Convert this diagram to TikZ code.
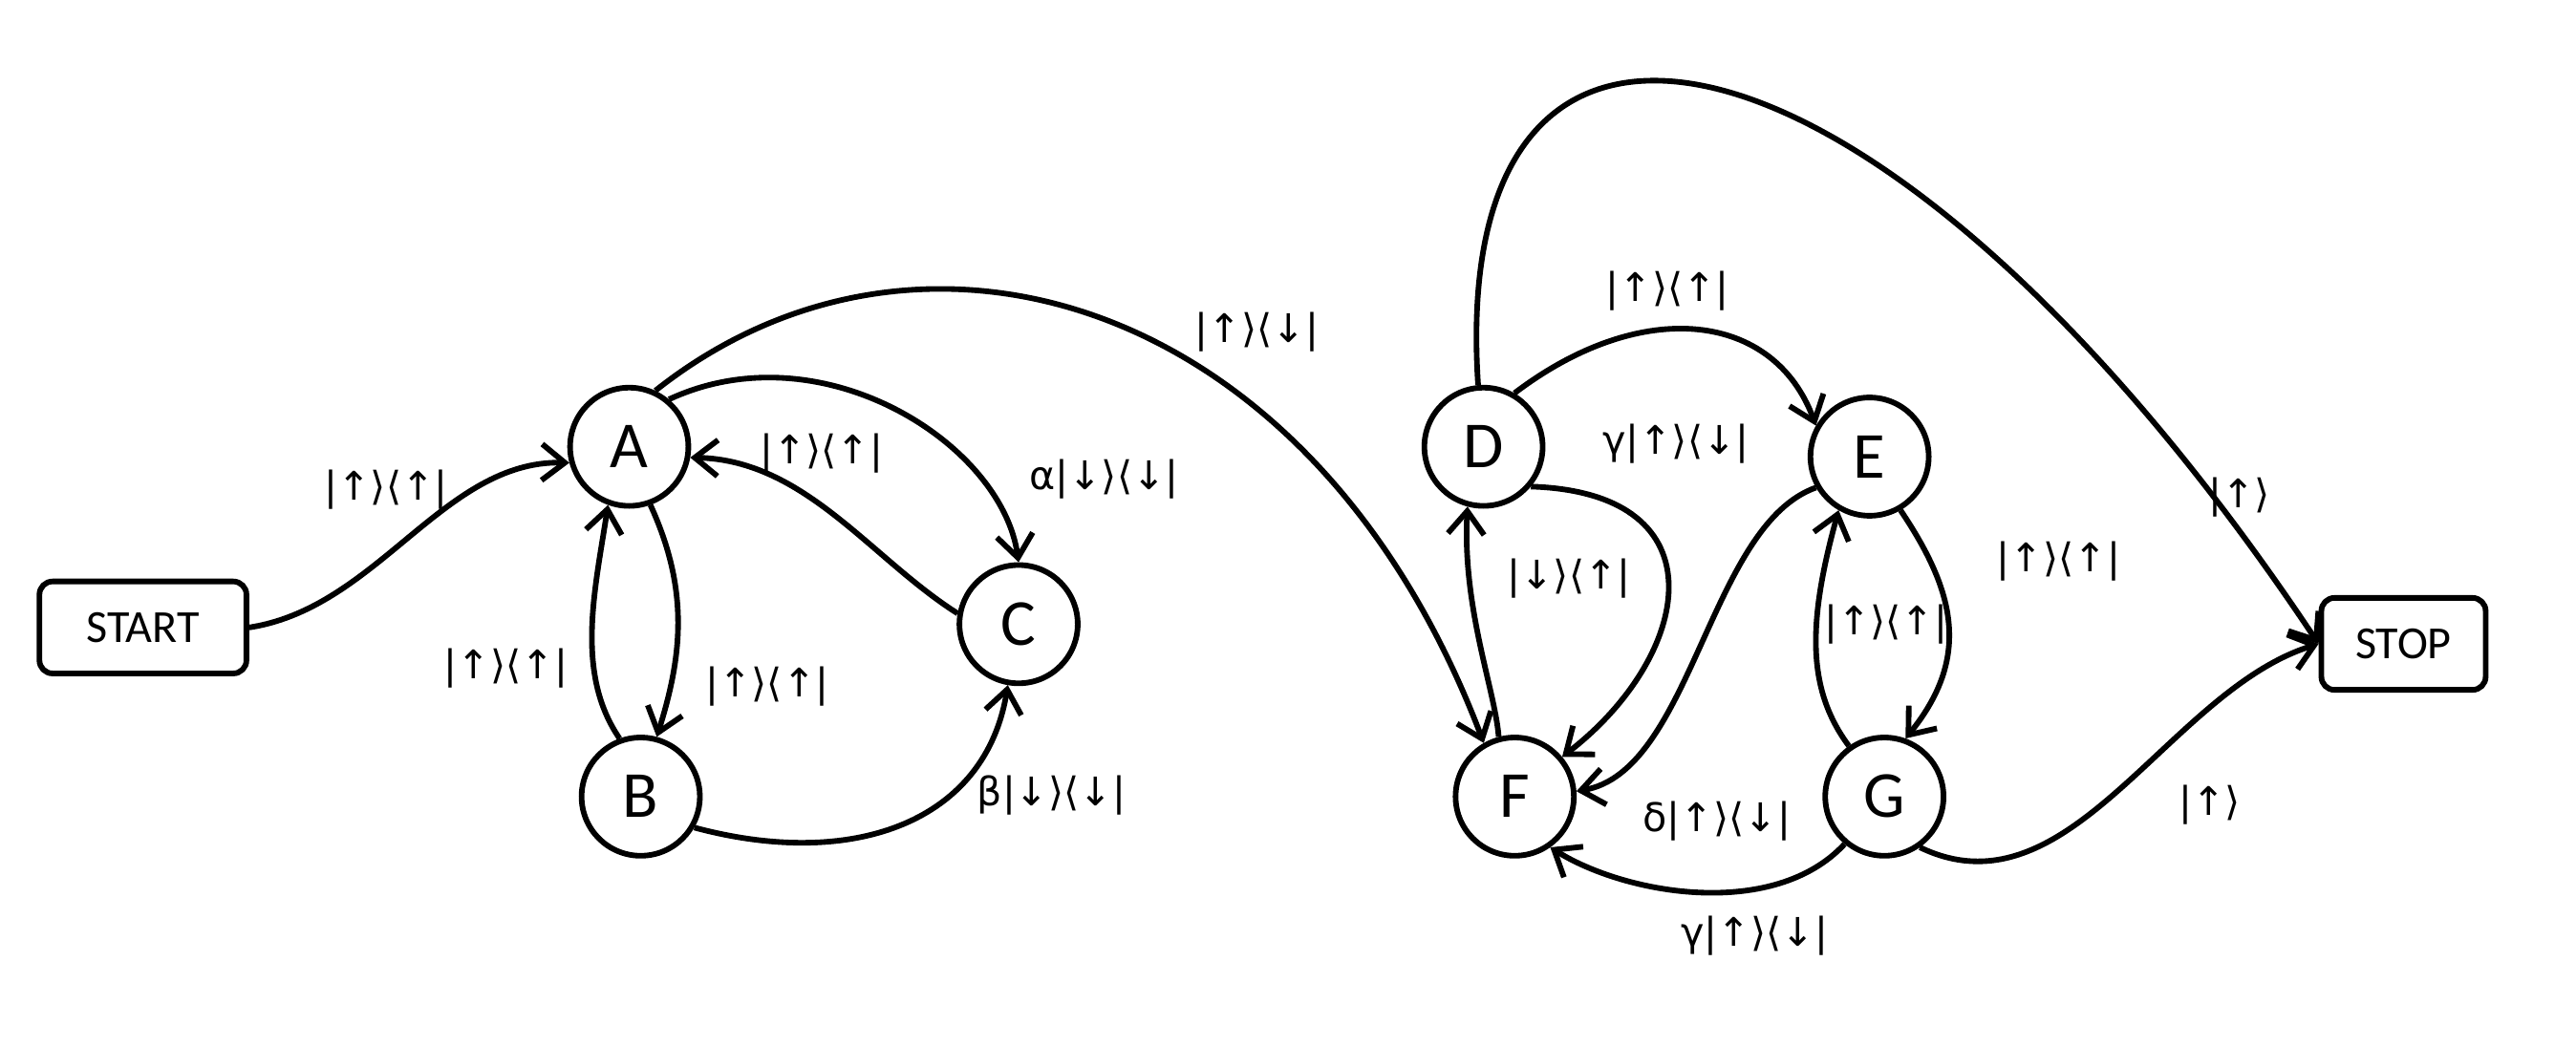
\documentclass[tikz,border=0pt]{standalone}
\usepackage{fontspec}
\setmainfont{Carlito}
\newfontfamily\symf{DejaVu Sans}
\usetikzlibrary{arrows.meta}
\begin{document}
\begin{tikzpicture}[x=0.5pt,y=-0.5pt,line width=1.7pt,
  st/.style={circle,draw,minimum size=36pt,inner sep=0pt,font=\fontsize{20}{20}\selectfont},
  bx/.style={draw,rounded corners=4pt,minimum height=28pt,font=\fontsize{14}{14}\selectfont},
  ed/.style={-{Straight Barb[length=7pt,width=11pt]}},
  lb/.style={font=\symf\fontsize{12}{12}\selectfont}]
\path[use as bounding box] (0,0) rectangle (1568,637);
\node[bx,minimum width=63pt] (start) at (87,382) {START};
\node[bx,minimum width=50pt] (stop) at (1463,392) {STOP};
\node[st] (A) at (383,272) {A};
\node[st] (B) at (390,485) {B};
\node[st] (C) at (620,380) {C};
\node[st] (D) at (903,272) {D};
\node[st] (E) at (1138,278) {E};
\node[st] (F) at (922,485) {F};
\node[st] (G) at (1147,485) {G};
\draw[ed] (start.east) .. controls (230,370) and (270,280) .. (A.-165);
\node[lb] at (235,298) {|↑⟩⟨↑|};
\draw[ed] (A.50) .. controls (500,200) and (610,270) .. (C.90);
\node[lb] at (672,292) {α|↓⟩⟨↓|};
\draw[ed] (C.170) .. controls (530,340) and (490,280) .. (A.-10);
\node[lb] at (500,276) {|↑⟩⟨↑|};
\draw[ed] (A.-70) .. controls (420,360) and (415,400) .. (B.75);
\node[lb] at (467,418) {|↑⟩⟨↑|};
\draw[ed] (B.110) .. controls (350,410) and (362,360) .. (A.-110);
\node[lb] at (308,407) {|↑⟩⟨↑|};
\draw[ed] (B.-30) .. controls (520,530) and (600,500) .. (C.-100);
\node[lb] at (640,484) {β|↓⟩⟨↓|};
\draw[ed] (A.65) .. controls (560,110) and (800,180) .. (F.120);
\node[lb] at (765,202) {|↑⟩⟨↓|};
\draw[ed] (D.60) .. controls (1000,180) and (1080,190) .. (E.150);
\node[lb] at (1015,177) {|↑⟩⟨↑|};
\draw[ed] (D.95) .. controls (880,-60) and (1150,0) .. (stop.west);
\node[lb] at (1363,303) {|↑⟩};
\draw[ed] (D.-40) .. controls (1050,300) and (1030,400) .. (F.40);
\node[lb] at (1020,270) {γ|↑⟩⟨↓|};
\draw[ed] (F.105) .. controls (910,420) and (890,370) .. (D.-105);
\node[lb] at (955,352) {|↓⟩⟨↑|};
\draw[ed] (E.-150) .. controls (1040,320) and (1030,470) .. (F.5);
\node[lb] at (1045,500) {δ|↑⟩⟨↓|};
\draw[ed] (E.-60) .. controls (1190,360) and (1200,400) .. (G.70);
\node[lb] at (1253,342) {|↑⟩⟨↑|};
\draw[ed] (G.125) .. controls (1100,420) and (1100,380) .. (E.-120);
\node[lb] at (1148,380) {|↑⟩⟨↑|};
\draw[ed] (G.-130) .. controls (1080,560) and (990,545) .. (F.-55);
\node[lb] at (1068,570) {γ|↑⟩⟨↓|};
\draw[ed] (G.-55) .. controls (1260,560) and (1320,420) .. (stop.west);
\node[lb] at (1345,490) {|↑⟩};
\end{tikzpicture}
\end{document}
